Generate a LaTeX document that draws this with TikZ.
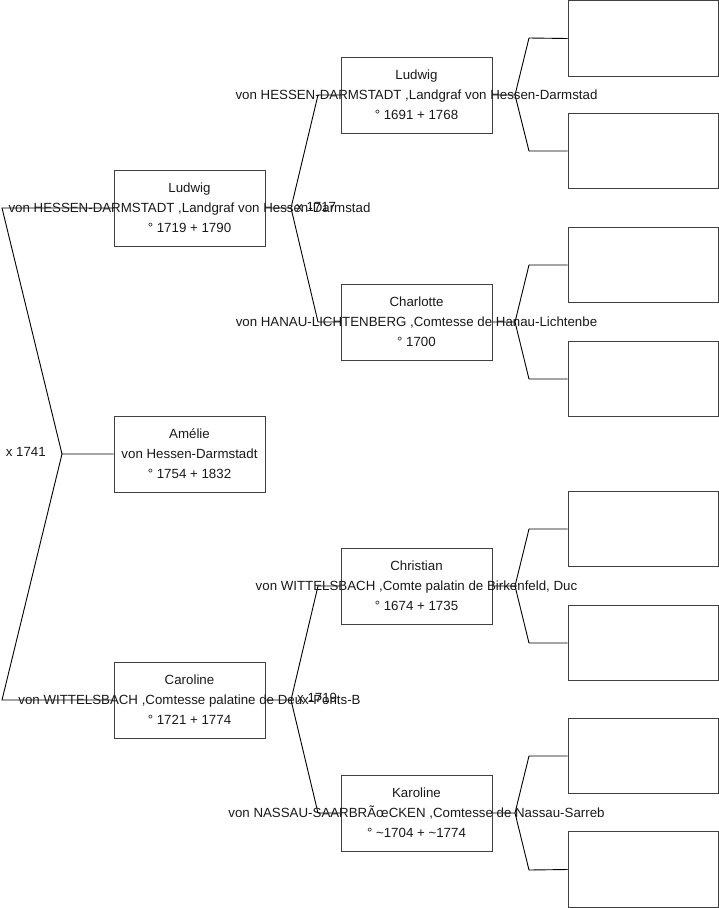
\documentclass[tikz,border=0pt]{standalone}
\usepackage{fontspec}
\setmainfont{Liberation Sans}
\begin{document}
\begin{tikzpicture}[x=1pt,y=-1pt,
  pbox/.style={draw=black!75, line width=1pt, minimum width=151pt, minimum height=76pt, inner sep=0pt},
  ebox/.style={pbox, minimum width=150pt, minimum height=75.5pt},
  ptext/.style={font=\fontsize{13.3}{20}\selectfont, align=center, inner sep=0pt, text=black!90},
  mtext/.style={font=\fontsize{13.3}{20}\selectfont, inner sep=0pt, text=black!90},
  conn/.style={draw=black, line width=0.9pt}]
\useasboundingbox (0,0) rectangle (719,908);
% generation 1
\node[pbox] (ame) at (189.5,454) {};
% generation 2
\node[pbox] (lud2) at (189.5,208) {};
\node[pbox] (car2) at (189.5,700) {};
% generation 3
\node[pbox] (lud3) at (416.5,95) {};
\node[pbox] (cha3) at (416.5,322) {};
\node[pbox] (chr3) at (416.5,586) {};
\node[pbox] (kar3) at (416.5,813) {};
% generation 4
\node[ebox] (g1) at (643,38.5) {};
\node[ebox] (g2) at (643,151) {};
\node[ebox] (g3) at (643,265) {};
\node[ebox] (g4) at (643,379) {};
\node[ebox] (g5) at (643,529) {};
\node[ebox] (g6) at (643,643) {};
\node[ebox] (g7) at (643,756) {};
\node[ebox] (g8) at (643,869.5) {};
% junctions
\coordinate (j1) at (62,454);
\coordinate (c1a) at (2,208);
\coordinate (c1b) at (2,700);
\coordinate (j2a) at (291,208);
\coordinate (c2a) at (318,95);
\coordinate (c2b) at (318,322);
\coordinate (j2b) at (291,700);
\coordinate (c2c) at (318,586);
\coordinate (c2d) at (318,813);
\foreach \n/\y/\ya/\yb in {1/95/38/151, 2/322/265/379, 3/586/529/643, 4/813/756/870}{
  \coordinate (j3\n) at (515,\y);
  \coordinate (c3\n a) at (529,\ya);
  \coordinate (c3\n b) at (529,\yb);
}
% connectors
\draw[conn] (ame.west) -- (j1) -- (c1a) -- (lud2.west);
\draw[conn] (j1) -- (c1b) -- (car2.west);
\draw[conn] (lud2.east) -- (j2a) -- (c2a) -- (lud3.west);
\draw[conn] (j2a) -- (c2b) -- (cha3.west);
\draw[conn] (car2.east) -- (j2b) -- (c2c) -- (chr3.west);
\draw[conn] (j2b) -- (c2d) -- (kar3.west);
\draw[conn] (lud3.east) -- (j31) -- (c31a) -- (g1.west);
\draw[conn] (j31) -- (c31b) -- (g2.west);
\draw[conn] (cha3.east) -- (j32) -- (c32a) -- (g3.west);
\draw[conn] (j32) -- (c32b) -- (g4.west);
\draw[conn] (chr3.east) -- (j33) -- (c33a) -- (g5.west);
\draw[conn] (j33) -- (c33b) -- (g6.west);
\draw[conn] (kar3.east) -- (j34) -- (c34a) -- (g7.west);
\draw[conn] (j34) -- (c34b) -- (g8.west);
% texts
\node[ptext] (t-ame) at (ame) {Amélie\\von Hessen-Darmstadt\\° 1754 + 1832};
\node[ptext] (t-lud2) at (lud2) {Ludwig\\von HESSEN-DARMSTADT ,Landgraf von Hessen-Darmstad\\° 1719 + 1790};
\node[ptext] (t-car2) at (car2) {Caroline\\von WITTELSBACH ,Comtesse palatine de Deux-Ponts-B\\° 1721 + 1774};
\node[ptext] (t-lud3) at (lud3) {Ludwig\\von HESSEN-DARMSTADT ,Landgraf von Hessen-Darmstad\\° 1691 + 1768};
\node[ptext] (t-cha3) at (cha3) {Charlotte\\von HANAU-LICHTENBERG ,Comtesse de Hanau-Lichtenbe\\° 1700};
\node[ptext] (t-chr3) at (chr3) {Christian\\von WITTELSBACH ,Comte palatin de Birkenfeld, Duc\\° 1674 + 1735};
\node[ptext] (t-kar3) at (kar3) {Karoline\\von NASSAU-SAARBRÃœCKEN ,Comtesse de Nassau-Sarreb\\° \textasciitilde1704 + \textasciitilde1774};
% marriage labels
\node[mtext, anchor=east] (m1) at (46,452) {x 1741};
\node[mtext, anchor=west] (m2) at (296,207) {x 1717};
\node[mtext, anchor=west] (m3) at (297,698) {x 1719};
\end{tikzpicture}
\end{document}
